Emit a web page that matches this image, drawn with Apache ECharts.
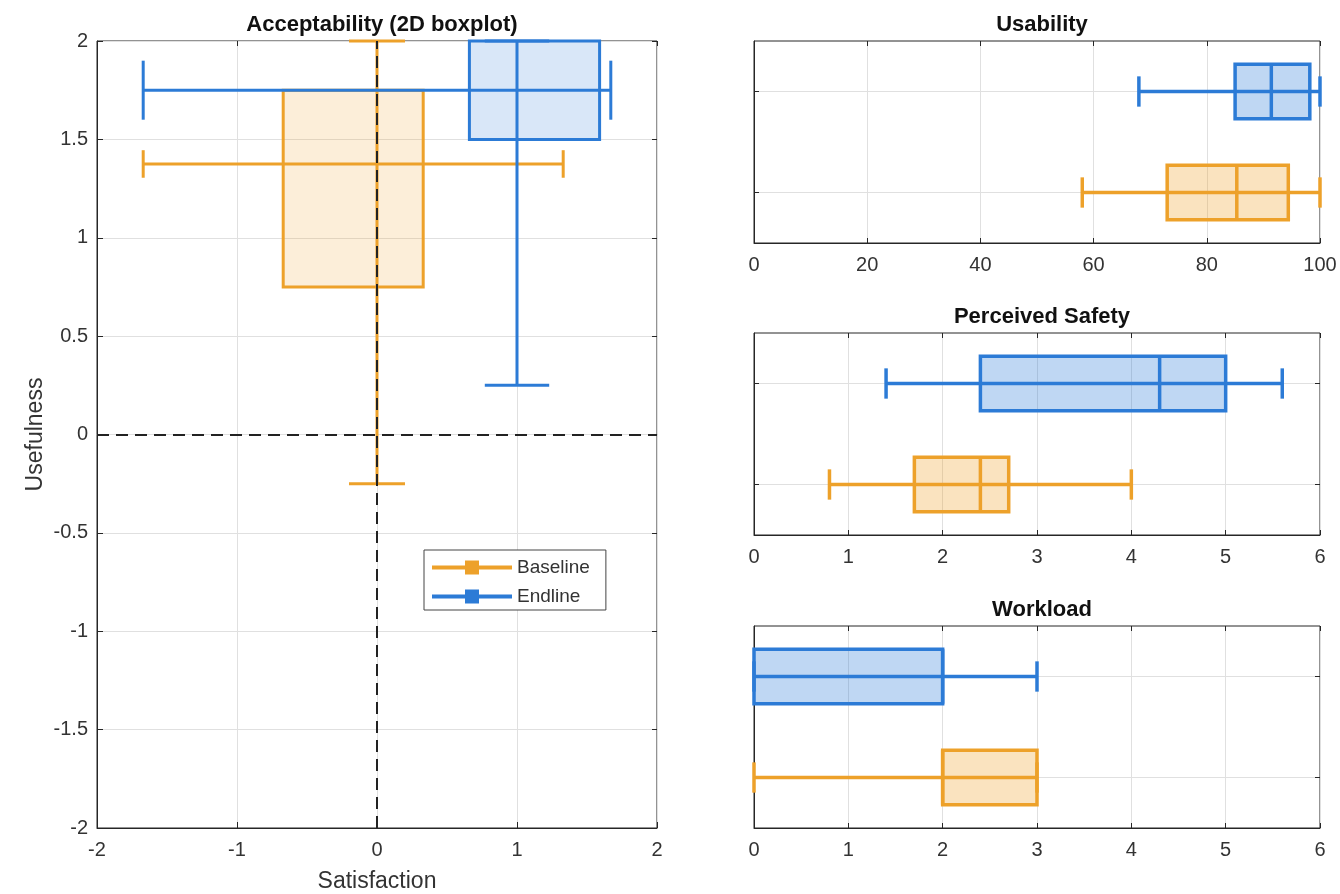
<!DOCTYPE html>
<html>
<head>
<meta charset="utf-8">
<script src="https://cdn.jsdelivr.net/npm/echarts@6/dist/echarts.min.js"></script>
<style>
  html, body { margin: 0; padding: 0; background: #fff; }
  #main { width: 1340px; height: 894px; }
</style>
</head>
<body>
<div id="main"></div>
<script>
// 2D boxplot: [whisker low, q1, median, q3, whisker high]
const baselineSatisfaction = [-1.67, -0.67, 0, 0.33, 1.33]
const baselineUsefulness = [-0.25, 0.75, 1.375, 1.75, 2]
const endlineSatisfaction = [-1.67, 0.66, 1, 1.59, 1.67]
const endlineUsefulness = [0.25, 1.5, 1.75, 2, 2]
// half lengths of the whisker caps [on the x whisker (y units), on the y whisker (x units)]
const baselineCaps = [0.07, 0.2]
const endlineCaps = [0.15, 0.23]

// 1D boxplots: [whisker low, q1, median, q3, whisker high]
const usabilityBaseline = [58, 73, 85.3, 94.4, 100]
const usabilityEndline = [68, 85, 91.4, 98.2, 100]
const safetyBaseline = [0.8, 1.7, 2.4, 2.7, 4.0]
const safetyEndline = [1.4, 2.4, 4.3, 5.0, 5.6]
const workloadBaseline = [0, 2, 2, 3, 3]
const workloadEndline = [0, 0, 2, 2, 3]

const rowBaseline = 1
const rowEndline = 2

const orange = '#EDA12A'
const blue = '#2C7BD6'

const chart = echarts.init(document.getElementById('main'))

const fontFamily = 'Liberation Sans, Arial, sans-serif'
const tickFont = { color: '#333', fontSize: 20, fontFamily: fontFamily }
const nameFont = { color: '#333', fontSize: 23, fontFamily: fontFamily }
const frameColor = '#262626'
const gridLine = { show: true, lineStyle: { color: '#e0e0e0', width: 1 } }

/**
 * 2D box: box over q1..q3 in both directions, whiskers crossing at medians
 */
function render2D(params, api) {
  const v = []
  for (let i = 0; i < 12; i++) v.push(api.value(i))
  const c = (x, y) => api.coord([x, y])
  const color = api.visual('color')
  const lw = 3
  const p1 = c(v[1], v[8])
  const p2 = c(v[3], v[6])
  const line = (a, b) => ({
    type: 'line',
    shape: { x1: a[0], y1: a[1], x2: b[0], y2: b[1] },
    style: { stroke: color, lineWidth: lw }
  })
  return {
    type: 'group',
    children: [
      {
        type: 'rect',
        shape: { x: p1[0], y: p1[1], width: p2[0] - p1[0], height: p2[1] - p1[1] },
        style: { fill: echarts.color.modifyAlpha(color, 0.18), stroke: color, lineWidth: lw }
      },
      line(c(v[0], v[7]), c(v[4], v[7])),
      line(c(v[2], v[5]), c(v[2], v[9])),
      line(c(v[0], v[7] - v[10]), c(v[0], v[7] + v[10])),
      line(c(v[4], v[7] - v[10]), c(v[4], v[7] + v[10])),
      line(c(v[2] - v[11], v[5]), c(v[2] + v[11], v[5])),
      line(c(v[2] - v[11], v[9]), c(v[2] + v[11], v[9]))
    ]
  }
}

/**
 * horizontal box: [row, low, q1, med, q3, high]
 */
function render1D(params, api) {
  const row = api.value(0)
  const low = api.value(1)
  const q1 = api.value(2)
  const med = api.value(3)
  const q3 = api.value(4)
  const high = api.value(5)
  const color = api.visual('color')
  const c = (x, y) => api.coord([x, y])
  const lw = 3.5
  const half = 0.27
  const cap = 0.15
  const a = c(q1, row + half)
  const b = c(q3, row - half)
  const line = (p, q) => ({
    type: 'line',
    shape: { x1: p[0], y1: p[1], x2: q[0], y2: q[1] },
    style: { stroke: color, lineWidth: lw }
  })
  return {
    type: 'group',
    children: [
      line(c(low, row), c(q1, row)),
      line(c(q3, row), c(high, row)),
      line(c(low, row - cap), c(low, row + cap)),
      line(c(high, row - cap), c(high, row + cap)),
      {
        type: 'rect',
        shape: { x: a[0], y: a[1], width: b[0] - a[0], height: b[1] - a[1] },
        style: { fill: echarts.color.modifyAlpha(color, 0.3), stroke: color, lineWidth: lw }
      },
      line(c(q1, row), c(q3, row)),
      line(c(med, row - half), c(med, row + half))
    ]
  }
}

const rightGrids = [
  { left: 754, right: 20, top: 41, height: 202 },
  { left: 754, right: 20, top: 333, height: 202 },
  { left: 754, right: 20, top: 626, height: 202 }
]
const rightRanges = [[0, 100, 20], [0, 6, 1], [0, 6, 1]]
const rightData = [
  [usabilityBaseline, usabilityEndline],
  [safetyBaseline, safetyEndline],
  [workloadBaseline, workloadEndline]
]

const grids = [{ left: 97, right: 683, top: 41, bottom: 66 }].concat(rightGrids).map(g => ({
  ...g, show: true, borderColor: frameColor, borderWidth: 1, backgroundColor: 'transparent',
  outerBoundsMode: 'none'
}))

const innerTick = len => ({ show: true, inside: true, length: len, lineStyle: { color: frameColor } })

const xAxes = [{
  type: 'value', gridIndex: 0, min: -2, max: 2, interval: 1,
  name: 'Satisfaction', nameLocation: 'middle', nameGap: 42,
  nameTextStyle: nameFont,
  axisLine: { show: true, onZero: false, lineStyle: { color: frameColor } },
  axisTick: innerTick(6),
  axisLabel: { ...tickFont, margin: 12 },
  splitLine: gridLine
}]
const yAxes = [{
  type: 'value', gridIndex: 0, min: -2, max: 2, interval: 0.5,
  name: 'Usefulness', nameLocation: 'middle', nameGap: 50,
  nameTextStyle: nameFont,
  axisLine: { show: true, onZero: false, lineStyle: { color: frameColor } },
  axisTick: innerTick(6),
  axisLabel: { ...tickFont, margin: 9 },
  splitLine: gridLine
}]

rightRanges.forEach((r, i) => {
  xAxes.push({
    type: 'value', gridIndex: i + 1, min: r[0], max: r[1], interval: r[2],
    axisLine: { show: true, onZero: false, lineStyle: { color: frameColor } },
    axisTick: innerTick(5),
    axisLabel: { ...tickFont, margin: 12 },
    splitLine: gridLine
  })
  yAxes.push({
    type: 'value', gridIndex: i + 1, min: 0.5, max: 2.5,
    axisLine: { show: true, onZero: false, lineStyle: { color: frameColor } },
    axisTick: { ...innerTick(5), customValues: [rowBaseline, rowEndline] },
    axisLabel: { show: false, customValues: [rowBaseline, rowEndline] },
    splitLine: gridLine
  })
})

// mirrored ticks on the top and right edges of every box
const mirrorX = xAxes.map(a => ({
  type: 'value', gridIndex: a.gridIndex, position: 'top', min: a.min, max: a.max, interval: a.interval,
  axisLine: { show: false, onZero: false }, axisTick: innerTick(5), axisLabel: { show: false }, splitLine: { show: false }
}))
const mirrorY = yAxes.map(a => ({
  type: 'value', gridIndex: a.gridIndex, position: 'right', min: a.min, max: a.max, interval: a.interval,
  axisLine: { show: false, onZero: false },
  axisTick: a.axisTick.customValues ? { ...innerTick(5), customValues: a.axisTick.customValues } : innerTick(5),
  axisLabel: { show: false, customValues: a.axisLabel.customValues }, splitLine: { show: false }
}))

const series = [
  {
    name: 'Baseline', type: 'custom', xAxisIndex: 0, yAxisIndex: 0,
    itemStyle: { color: orange },
    renderItem: render2D,
    data: [baselineSatisfaction.concat(baselineUsefulness, baselineCaps)],
    z: 2
  },
  {
    name: 'Endline', type: 'custom', xAxisIndex: 0, yAxisIndex: 0,
    itemStyle: { color: blue },
    renderItem: render2D,
    data: [endlineSatisfaction.concat(endlineUsefulness, endlineCaps)],
    z: 3
  },
  {
    type: 'line', xAxisIndex: 0, yAxisIndex: 0, data: [], z: 4, silent: true,
    markLine: {
      silent: true, symbol: 'none', label: { show: false },
      lineStyle: { color: '#222', width: 2, type: [12, 7] },
      data: [{ xAxis: 0 }, { yAxis: 0 }]
    }
  }
]

rightData.forEach((pair, i) => {
  series.push({
    name: 'Baseline', type: 'custom', xAxisIndex: i + 1, yAxisIndex: i + 1,
    itemStyle: { color: orange }, renderItem: render1D,
    data: [[rowBaseline].concat(pair[0])], z: 2
  })
  series.push({
    name: 'Endline', type: 'custom', xAxisIndex: i + 1, yAxisIndex: i + 1,
    itemStyle: { color: blue }, renderItem: render1D,
    data: [[rowEndline].concat(pair[1])], z: 2
  })
})

const titleStyle = { color: '#111', fontSize: 22, fontWeight: 'bold', fontFamily: fontFamily }
const legendIcon = 'path://M0,5 L33,5 L33,0 L47,0 L47,5 L80,5 L80,9 L47,9 L47,14 L33,14 L33,9 L0,9 Z'

chart.setOption({
  animation: false,
  title: [
    { text: 'Acceptability (2D boxplot)', left: 377, top: 9, textAlign: 'center', textStyle: titleStyle },
    { text: 'Usability', left: 1037, top: 9, textAlign: 'center', textStyle: titleStyle },
    { text: 'Perceived Safety', left: 1037, top: 301, textAlign: 'center', textStyle: titleStyle },
    { text: 'Workload', left: 1037, top: 594, textAlign: 'center', textStyle: titleStyle }
  ],
  legend: {
    orient: 'vertical', left: 424, top: 550,
    padding: [8, 16, 4, 8], itemGap: 10, itemWidth: 80, itemHeight: 14,
    borderColor: '#444', borderWidth: 1, backgroundColor: '#fff',
    textStyle: { color: '#333', fontSize: 19, fontFamily: fontFamily },
    data: [
      { name: 'Baseline', icon: legendIcon, itemStyle: { color: orange } },
      { name: 'Endline', icon: legendIcon, itemStyle: { color: blue } }
    ]
  },
  grid: grids,
  xAxis: xAxes.concat(mirrorX),
  yAxis: yAxes.concat(mirrorY),
  series: series
})
</script>
</body>
</html>
